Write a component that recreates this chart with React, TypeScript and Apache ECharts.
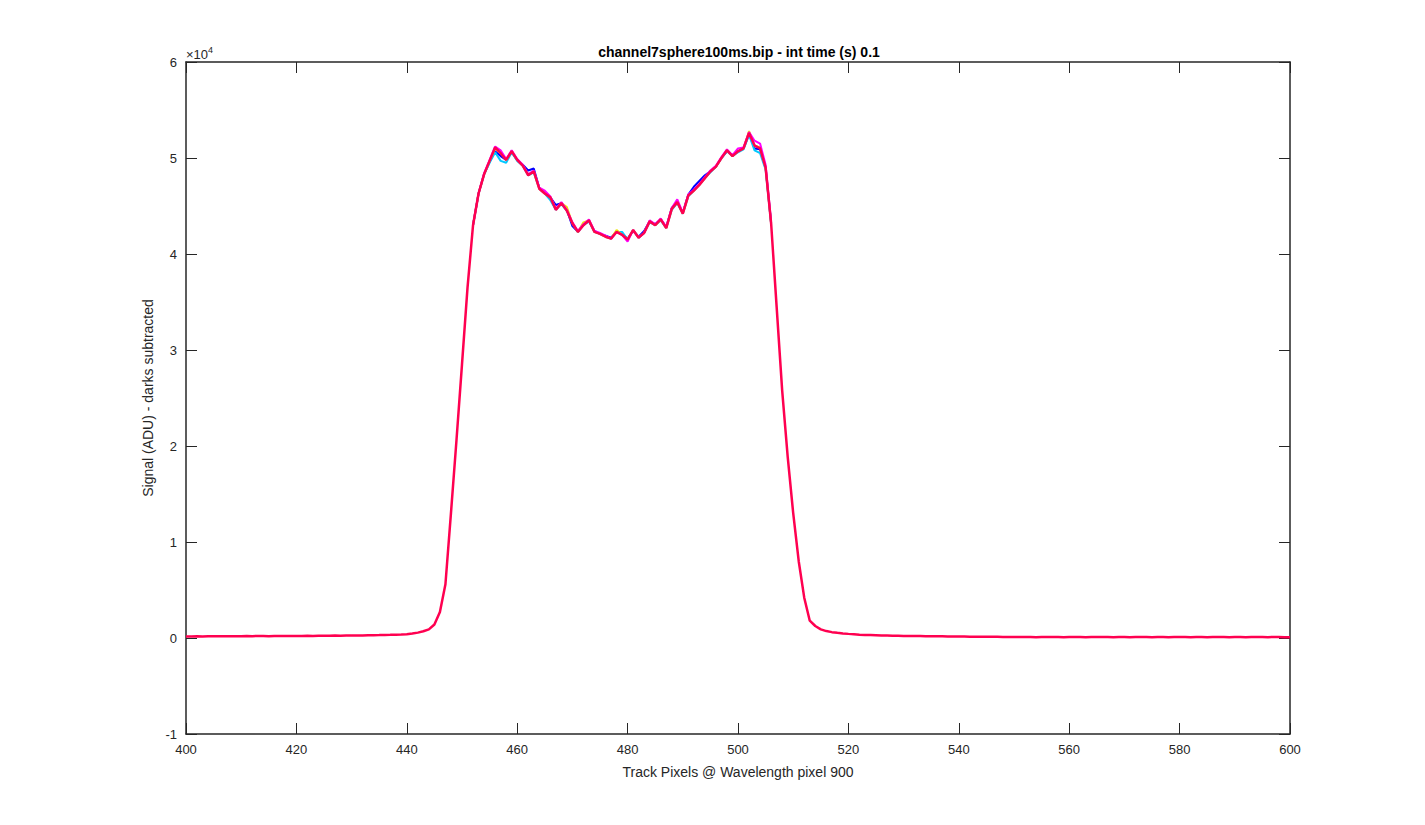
import React, { useEffect, useRef } from "react";
import * as echarts from "echarts";

const xStart = 400;
// main (top, pink-red) trace, one value per track pixel 400..600
const mainSignal = [
  150, 160, 170, 160, 180, 190, 170, 180, 190, 180,
  190, 200, 190, 210, 200, 190, 210, 220, 200, 210,
  210, 220, 230, 220, 230, 240, 230, 250, 240, 250,
  260, 270, 260, 280, 290, 300, 320, 330, 350, 370,
  400, 460, 560, 700, 900, 1400, 2700, 5600, 13000, 20600,
  28500, 36500, 43000, 46300, 48300, 49700, 51100, 50500, 49800, 50700,
  49800, 49200, 48200, 48600, 46800, 46300, 45900, 44600, 45300, 44500,
  43200, 42300, 43000, 43500, 42300, 42100, 41800, 41600, 42300, 42000,
  41500, 42500, 41700, 42200, 43400, 43000, 43600, 42700, 44700, 45400,
  44200, 46100, 46600, 47200, 47900, 48600, 49100, 50000, 50800, 50200,
  50700, 51000, 52600, 51300, 51000, 49000, 43200, 34500, 25800, 18900,
  13000, 8000, 4200, 1800, 1250, 900, 720, 610, 540, 480,
  430, 390, 350, 320, 300, 280, 260, 250, 240, 230,
  220, 210, 200, 200, 190, 180, 180, 170, 160, 160,
  150, 150, 140, 140, 130, 130, 120, 120, 110, 110,
  110, 100, 110, 100, 90, 100, 110, 100, 100, 90,
  100, 110, 100, 90, 100, 100, 110, 100, 90, 100,
  100, 90, 100, 110, 100, 90, 100, 100, 90, 100,
  110, 100, 90, 100, 100, 90, 100, 110, 100, 90,
  100, 100, 90, 100, 110, 100, 90, 100, 100, 90,
  90,
];

// other overlapping traces, track pixels 452..506
const peakStart = 452;
const blueSignal = [
  43000, 46300, 48300, 49600, 50700, 50200, 49800, 50600, 49800, 49300,
  48700, 48900, 46900, 46300, 45900, 45100, 45300, 44600, 42900, 42300,
  43100, 43400, 42400, 42100, 41900, 41700, 42300, 42100, 41600, 42400,
  41800, 42400, 43400, 43100, 43600, 42800, 44800, 45400, 44300, 46200,
  47000, 47600, 48200, 48600, 49100, 50000, 50700, 50300, 50700, 51000,
  52500, 51000, 50900, 49000, 43200,
];
const cyanSignal = [
  43000, 46300, 48300, 49500, 50600, 49700, 49500, 50600, 49700, 49200,
  48200, 48500, 46800, 46300, 45600, 44600, 45200, 44500, 43200, 42300,
  43000, 43400, 42300, 42100, 41800, 41600, 42300, 42300, 41500, 42500,
  41700, 42200, 43300, 43000, 43500, 42700, 44600, 45300, 44200, 46000,
  46600, 47200, 47900, 48500, 49100, 50000, 50700, 50200, 50600, 50900,
  52400, 50800, 50500, 48800, 43200,
];
const magentaSignal = [
  43000, 46300, 48400, 49800, 51200, 50800, 49900, 50800, 49900, 49300,
  48300, 48700, 46900, 46600, 46000, 44700, 45400, 44600, 43300, 42400,
  43100, 43600, 42400, 42200, 41900, 41600, 42300, 42000, 41300, 42500,
  41700, 42200, 43500, 43100, 43700, 42800, 44800, 45700, 44300, 46200,
  46700, 47300, 48000, 48700, 49200, 50100, 50900, 50300, 51000, 51100,
  52700, 51800, 51500, 49300, 43400,
];
const yellowSignal = [
  43000, 46300, 48300, 49700, 51000, 50500, 49800, 50700, 49800, 49200,
  48300, 48600, 46800, 46300, 45900, 44700, 45300, 44900, 43200, 42300,
  43300, 43500, 42300, 42100, 41800, 41600, 42500, 42000, 41500, 42500,
  41700, 42200, 43400, 43000, 43600, 42700, 44700, 45400, 44200, 46100,
  46600, 47200, 47900, 48600, 49100, 50000, 50800, 50200, 50700, 51000,
  52800, 51300, 51100, 49000, 43200,
];

const xTicks = { min: 400, max: 600, interval: 20 };
const yTicks = { min: -10000, max: 60000, interval: 10000 };

const titleText = "channel7sphere100ms.bip - int time (s) 0.1";
const xName = "Track Pixels @ Wavelength pixel 900";
const yName = "Signal (ADU) - darks subtracted";

const toPairs = (start: number, vals: number[]) => vals.map((v, i) => [start + i, v]);

const AX = "#262626";
const FONT = "Liberation Sans, Arial, Helvetica, sans-serif";

export default function App() {
  const ref = useRef<HTMLDivElement>(null);
  useEffect(() => {
    if (!ref.current) return;
    const chart = echarts.init(ref.current, null, { renderer: "svg" });
    const axisCommon = {
      type: "value" as const,
      axisLine: { show: true, onZero: false, lineStyle: { color: AX, width: 1.5 } },
      axisTick: { show: true, inside: true, length: 11, lineStyle: { color: AX, width: 1 } },
      splitLine: { show: false },
    };
    const lineSeries = (name: string, color: string, data: number[][], width: number) => ({
      name,
      type: "line",
      data,
      showSymbol: false,
      symbol: "none",
      lineStyle: { color, width },
      itemStyle: { color },
      xAxisIndex: 0,
      yAxisIndex: 0,
      z: 2,
    });
    chart.setOption({
      animation: false,
      backgroundColor: "#ffffff",
      textStyle: { fontFamily: FONT },
      title: {
        text: titleText,
        left: 734,
        top: 40,
        textAlign: "center",
        textStyle: { fontSize: 14, fontWeight: "bold", color: "#000", fontFamily: FONT },
      },
      grid: { left: 186, top: 62, width: 1104, height: 672, containLabel: false },
      xAxis: [
        {
          ...axisCommon,
          position: "bottom",
          min: xTicks.min,
          max: xTicks.max,
          interval: xTicks.interval,
          name: xName,
          nameLocation: "middle",
          nameGap: 31,
          nameTextStyle: { fontSize: 14, color: AX, fontFamily: FONT },
          axisLabel: { fontSize: 13, color: AX, margin: 9, fontFamily: FONT },
        },
        {
          ...axisCommon,
          position: "top",
          min: xTicks.min,
          max: xTicks.max,
          interval: xTicks.interval,
          axisLabel: { show: false },
        },
      ],
      yAxis: [
        {
          ...axisCommon,
          position: "left",
          min: yTicks.min,
          max: yTicks.max,
          interval: yTicks.interval,
          name: yName,
          nameLocation: "middle",
          nameGap: 29,
          nameTextStyle: { fontSize: 14, color: AX, fontFamily: FONT },
          axisLabel: {
            fontSize: 13,
            color: AX,
            margin: 9,
            fontFamily: FONT,
            formatter: (v: number) => String(v / 10000),
          },
        },
        {
          ...axisCommon,
          position: "right",
          min: yTicks.min,
          max: yTicks.max,
          interval: yTicks.interval,
          axisLabel: { show: false },
        },
      ],
      graphic: [
        {
          type: "text",
          left: 186,
          top: 45,
          style: {
            text: "{a|×10}{b|4}",
            rich: {
              a: { fontSize: 13, fill: AX, fontFamily: FONT, verticalAlign: "bottom" },
              b: { fontSize: 9, fill: AX, fontFamily: FONT, verticalAlign: "top", padding: [0, 0, 7, 0] },
            },
          },
        },
      ],
      series: [
        lineSeries("blue", "#0000ff", toPairs(peakStart, blueSignal), 2),
        lineSeries("cyan", "#00c8ff", toPairs(peakStart, cyanSignal), 2),
        lineSeries("yellow", "#e8e800", toPairs(peakStart, yellowSignal), 2),
        lineSeries("magenta", "#ff00ff", toPairs(peakStart, magentaSignal), 2),
        lineSeries("main", "#ff0050", toPairs(xStart, mainSignal), 2.5),
      ],
    });
    return () => chart.dispose();
  }, []);
  return (
    <div
      ref={ref}
      style={{ position: "fixed", left: 0, top: 0, width: 1425, height: 825, background: "#fff" }}
    />
  );
}
